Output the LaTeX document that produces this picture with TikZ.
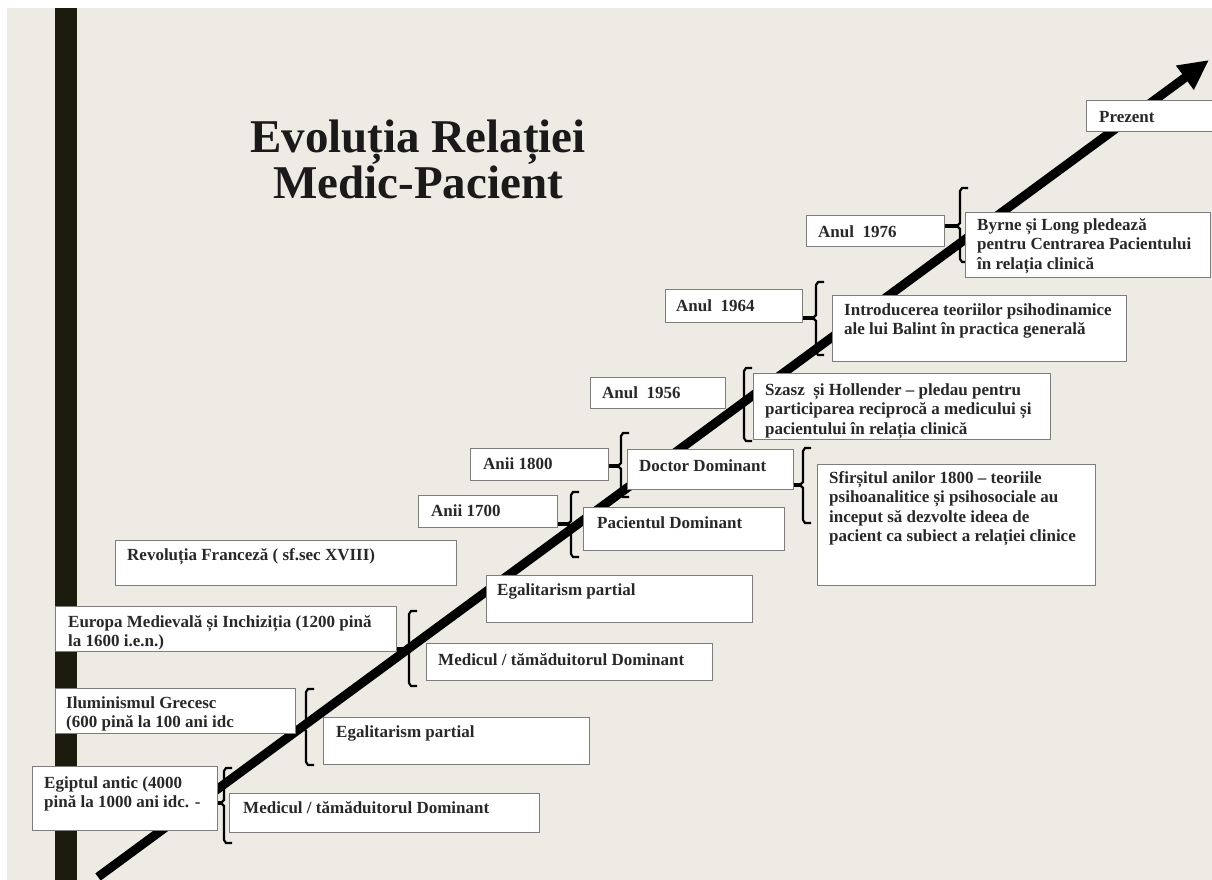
\documentclass[tikz,border=0pt]{standalone}
\usepackage{fontspec}
\setmainfont{Liberation Serif}
\usetikzlibrary{arrows.meta}
\definecolor{bgc}{RGB}{238,235,228}
\definecolor{barc}{RGB}{28,28,14}
\definecolor{boxline}{RGB}{125,125,125}
\definecolor{txtc}{RGB}{40,40,40}
\newcommand\topr{\rule{0pt}{13pt}}
\newcommand\mybrace[5]{% x, top, bottom, mid, name
  \draw[bracel] ({#1+8},#2) -- ({#1+2},#2) -- (#1,{#2+3}) -- (#1,{#4-3}) -- ({#1-3},#4) -- (#1,{#4+3}) -- (#1,{#3-3}) -- ({#1+2},#3) -- ({#1+8},#3);
  \coordinate (#5) at ({#1-2},#4);}
\begin{document}
\begin{tikzpicture}[x=1pt,y=-1pt,
  box/.style={draw=boxline, line width=1.2pt, fill=white, anchor=north west, inner sep=0pt},
  txt/.style={anchor=north west, inner sep=0pt, align=left, font=\fontsize{17}{19.5}\selectfont\bfseries, text=txtc},
  bracel/.style={draw=black, line width=2.2pt, line join=miter},
  conn/.style={draw=black, line width=3.5pt},
  mainarrow/.style={draw=black, line width=9pt, -{Triangle[length=30pt,width=28pt]}}]
\useasboundingbox (0,0) rectangle (1212,880);
\fill[white] (0,0) rectangle (1212,880);
\fill[bgc] (7,8) rectangle (1212,880);
\fill[barc] (55,8) rectangle (77,880);

% title
\node[anchor=north, inner sep=0pt, align=center, font=\fontsize{47}{46}\selectfont\bfseries, text={rgb,255:red,26;green,26;blue,26}] (title) at (418,116) {\rule{0pt}{36pt}Evoluția Relației\\Medic-Pacient};

% main arrow
\coordinate (as) at (98,877);
\coordinate (ae) at (1209,60);
\draw[mainarrow] (as) -- (ae);

% brackets
\mybrace{960}{188}{262}{226}{bByrne}
\mybrace{816}{282}{355}{318}{bIntro}
\mybrace{744}{368}{441}{404}{bSzasz}
\mybrace{621}{433}{497}{466}{bDoctor}
\mybrace{803}{448}{523}{485}{bSfirs}
\mybrace{571}{492}{557}{524}{bPacient}
\mybrace{409}{611}{686}{649}{bMedic2}
\mybrace{306}{689}{765}{728}{bEgal1}
\mybrace{224}{768}{843}{803}{bMedic1}

% boxes
\node[box, minimum width=130, minimum height=31] (prezent) at (1086,100) {};
\node[box, minimum width=138, minimum height=31] (a1976) at (806,215) {};
\node[box, minimum width=245, minimum height=65] (byrne) at (965,212) {};
\node[box, minimum width=137, minimum height=33] (a1964) at (665,289) {};
\node[box, minimum width=294, minimum height=66] (intro) at (832,295) {};
\node[box, minimum width=135, minimum height=31] (a1956) at (590,377) {};
\node[box, minimum width=297, minimum height=66] (szasz) at (753,373) {};
\node[box, minimum width=138, minimum height=32] (a1800) at (470,448) {};
\node[box, minimum width=166, minimum height=40] (doctor) at (627,449) {};
\node[box, minimum width=278, minimum height=121] (sfirs) at (817,464) {};
\node[box, minimum width=139, minimum height=32] (a1700) at (418,495) {};
\node[box, minimum width=201, minimum height=43] (pacient) at (583,507) {};
\node[box, minimum width=341, minimum height=45] (revol) at (115,540) {};
\node[box, minimum width=266, minimum height=47] (egal2) at (486,575) {};
\node[box, minimum width=341, minimum height=45] (europa) at (55,606) {};
\node[box, minimum width=286, minimum height=37] (medic2) at (426,643) {};
\node[box, minimum width=240, minimum height=45] (ilum) at (55,688) {};
\node[box, minimum width=266, minimum height=47] (egal1) at (323,717) {};
\node[box, minimum width=185, minimum height=64] (egipt) at (32,766) {};
\node[box, minimum width=310, minimum height=39] (medic1) at (229,793) {};

% connectors from boxes to brackets
\draw[conn] (a1976.east |- bByrne) -- (bByrne);
\draw[conn] (a1964.east |- bIntro) -- (bIntro);
\draw[conn] (a1800.east |- bDoctor) -- (bDoctor);
\draw[conn] (doctor.east |- bSfirs) -- (bSfirs);
\draw[conn] (a1700.east |- bPacient) -- (bPacient);
\draw[conn] (europa.east |- bMedic2) -- (bMedic2);
\draw[conn] (ilum.east |- bEgal1) -- (bEgal1);
\draw[conn] (egipt.east |- bMedic1) -- (bMedic1);

% texts
\node[txt] (tprezent) at (1099,109) {\topr Prezent};
\node[txt] (t1976) at (818,224) {\topr Anul\ \ 1976};
\node[txt] (tbyrne) at (977,217) {\topr Byrne și Long pledează\\pentru Centrarea Pacientului\\în relația clinică};
\node[txt] (t1964) at (676,298) {\topr Anul\ \ 1964};
\node[txt] (tintro) at (844,302) {\topr Introducerea teoriilor psihodinamice\\ale lui Balint în practica generală};
\node[txt] (t1956) at (602,385) {\topr Anul\ \ 1956};
\node[txt] (tszasz) at (765,382) {\topr Szasz\ \ și Hollender – pledau pentru\\participarea reciprocă a medicului și\\pacientului în relația clinică};
\node[txt] (t1800) at (483,456) {\topr Anii 1800};
\node[txt] (tdoctor) at (639,458) {\topr Doctor Dominant};
\node[txt] (tsfirs) at (829,470) {\topr Sfirșitul anilor 1800 – teoriile\\psihoanalitice și psihosociale au\\inceput să dezvolte ideea de\\pacient ca subiect a relației clinice};
\node[txt] (t1700) at (431,503) {\topr Anii 1700};
\node[txt] (tpacient) at (597,515) {\topr Pacientul Dominant};
\node[txt] (trevol) at (127,547) {\topr Revoluția Franceză ( sf.sec XVIII)};
\node[txt] (tegal2) at (497,582) {\topr Egalitarism partial};
\node[txt] (teuropa) at (68,614) {\topr Europa Medievală și Inchiziția (1200 pină\\la 1600 i.e.n.)};
\node[txt] (tmedic2) at (438,652) {\topr Medicul / tămăduitorul Dominant};
\node[txt] (tilum) at (66,695) {\topr Iluminismul Grecesc\\(600 pină la 100 ani idc};
\node[txt] (tegal1) at (336,724) {\topr Egalitarism partial};
\node[txt] (tegipt) at (44,775) {\topr Egiptul antic (4000\\pină la 1000 ani idc. -};
\node[txt] (tmedic1) at (243,800) {\topr Medicul / tămăduitorul Dominant};
\end{tikzpicture}
\end{document}
